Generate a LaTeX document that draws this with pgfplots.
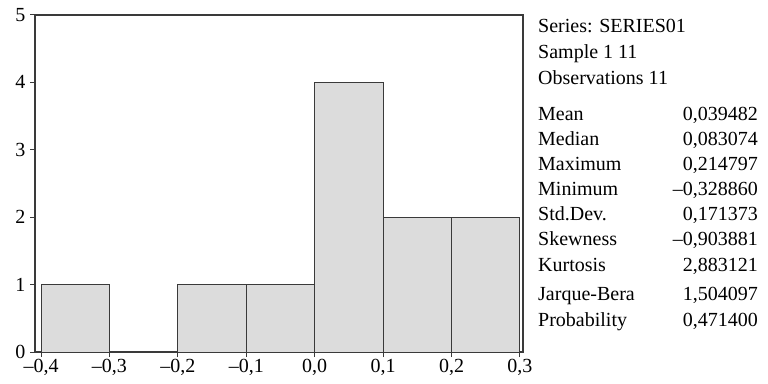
\documentclass[border=0pt]{standalone}
\usepackage{pgfplots}
\pgfplotsset{compat=1.18}
\usepackage{fontspec}
\setmainfont{Liberation Serif}

\definecolor{barfill}{HTML}{DCDCDC}
\definecolor{framecol}{HTML}{3A3A3A}

\begin{document}
\begin{tikzpicture}
\path[use as bounding box] (0pt,0pt) rectangle (768pt,383pt);
\begin{axis}[
  at={(35pt,31pt)}, anchor=south west,
  scale only axis, width=488pt, height=337pt,
  xmin=-0.4088, xmax=0.3044, ymin=0, ymax=5,
  xtick={-0.4,-0.3,-0.2,-0.1,0,0.1,0.2,0.3},
  xticklabels={{–0,4},{–0,3},{–0,2},{–0,1},{0,0},{0,1},{0,2},{0,3}},
  ytick={0,1,2,3,4,5},
  yticklabels={0,1,2,3,4,5},
  tick align=outside, xtick pos=bottom, ytick pos=left,
  major tick length=5pt,
  every tick/.style={framecol, line width=1pt},
  axis line style={framecol, line width=1.2pt},
  tick label style={font=\fontsize{20}{24}\selectfont, text=black},
  xticklabel style={yshift=1pt},
  yticklabel style={xshift=-1pt},
]
% histogram, bins of width 0.1 centred on their midpoints (bin -0.3..-0.2 is empty)
\addplot[ybar, bar width=0.1, bar shift=0pt, fill=barfill, draw=framecol, line width=1pt]
  coordinates {(-0.35,1) (-0.15,1) (-0.05,1) (0.05,4) (0.15,2) (0.25,2)};
\end{axis}

% statistics panel
\begin{scope}[x=1pt, y=1pt, every node/.style={font=\fontsize{20}{24}\selectfont, inner sep=0pt}]
\node[anchor=base west] at (538,350) {Series: SERIES01};
\node[anchor=base west] at (538,324) {Sample 1 11};
\node[anchor=base west] at (538,298) {Observations 11};
\foreach \lab/\val/\b in {Mean/{0,039482}/262, Median/{0,083074}/237, Maximum/{0,214797}/212,
  Minimum/{–0,328860}/187, Std.Dev./{0,171373}/162, Skewness/{–0,903881}/137,
  Kurtosis/{2,883121}/111, Jarque-Bera/{1,504097}/83, Probability/{0,471400}/57}{
  \node[anchor=base west] at (538,\b) {\lab};
  \node[anchor=base east] at (758,\b) {\val};
}
\end{scope}
\end{tikzpicture}
\end{document}
